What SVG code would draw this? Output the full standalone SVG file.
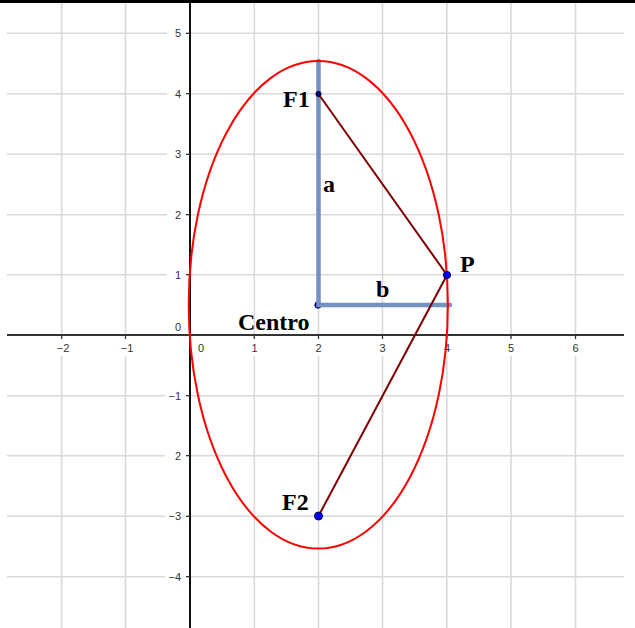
<svg xmlns="http://www.w3.org/2000/svg" width="635" height="628" viewBox="0 0 635 628">
<style>
.grid{stroke:#d9d9d9;stroke-width:1.6;fill:none}
.axis{stroke:#333;stroke-width:2;fill:none}
.tick{stroke:#333;stroke-width:1.2}
.num{font-family:"Liberation Sans",Arial,sans-serif;font-size:11px;fill:#333}
.lbl{font-family:"Liberation Serif","Times New Roman",serif;font-size:24px;font-weight:bold;fill:#000}
.bg{fill:#fff}
.seg{stroke:#7391c1;stroke-width:4.5;stroke-linecap:round;fill:none}
.side{stroke:#800000;stroke-width:2;fill:none}
.pt{fill:#0000ff;stroke:#000033;stroke-width:1}
</style>
<rect width="635" height="628" fill="#fff"/>
<g id="grid">
<path class="grid" d="M61.7 3V628M125.5 3V628M254.3 3V628M318.5 3V628M382.5 3V628M446.8 3V628M511 3V628M575.5 3V628"/>
<path class="grid" d="M7 33.3H624M7 93.7H624M7 154.3H624M7 214.7H624M7 274.7H624M7 395.7H624M7 455.7H624M7 516.3H624M7 576.7H624"/>
</g>
<g id="label-bg">
<rect class="bg" x="55" y="339" width="17" height="17"/>
<rect class="bg" x="119" y="339" width="17" height="17"/>
<rect class="bg" x="195" y="339" width="13" height="17"/>
<rect class="bg" x="248" y="339" width="13" height="17"/>
<rect class="bg" x="312" y="339" width="13" height="17"/>
<rect class="bg" x="376" y="339" width="13" height="17"/>
<rect class="bg" x="440" y="339" width="13" height="17"/>
<rect class="bg" x="504" y="339" width="13" height="17"/>
<rect class="bg" x="569" y="339" width="13" height="17"/>
<rect class="bg" x="167" y="26" width="19" height="15"/>
<rect class="bg" x="167" y="86" width="19" height="15"/>
<rect class="bg" x="167" y="147" width="19" height="15"/>
<rect class="bg" x="167" y="207" width="19" height="15"/>
<rect class="bg" x="167" y="267" width="19" height="15"/>
<rect class="bg" x="165" y="388" width="21" height="15"/>
<rect class="bg" x="165" y="448" width="21" height="15"/>
<rect class="bg" x="165" y="509" width="21" height="15"/>
<rect class="bg" x="165" y="569" width="21" height="15"/>
</g>
<g id="axes">
<path class="axis" d="M7 335H624"/>
<path class="axis" d="M190 3V628" style="stroke:#111"/>
<path class="tick" d="M61.7 335v4M125.5 335v4M254.3 335v4M318.5 335v4M382.5 335v4M446.8 335v4M511 335v4M575.5 335v4"/>
<path class="tick" d="M186 33.3h4M186 93.7h4M186 154.3h4M186 214.7h4M186 274.7h4M186 395.7h4M186 455.7h4M186 516.3h4M186 576.7h4"/>
</g>
<g id="axis-labels">
<text class="num" x="63" y="352" text-anchor="middle">−2</text>
<text class="num" x="127" y="352" text-anchor="middle">−1</text>
<text class="num" x="201" y="352" text-anchor="middle">0</text>
<text class="num" x="254.5" y="352" text-anchor="middle">1</text>
<text class="num" x="318.5" y="352" text-anchor="middle">2</text>
<text class="num" x="382.5" y="352" text-anchor="middle">3</text>
<text class="num" x="447" y="352" text-anchor="middle">4</text>
<text class="num" x="511" y="352" text-anchor="middle">5</text>
<text class="num" x="575.5" y="352" text-anchor="middle">6</text>
<text class="num" x="181" y="37.3" text-anchor="end">5</text>
<text class="num" x="181" y="97.7" text-anchor="end">4</text>
<text class="num" x="181" y="158.3" text-anchor="end">3</text>
<text class="num" x="181" y="218.7" text-anchor="end">2</text>
<text class="num" x="181" y="278.7" text-anchor="end">1</text>
<text class="num" x="181" y="331" text-anchor="end">0</text>
<text class="num" x="181" y="399.7" text-anchor="end">−1</text>
<text class="num" x="181" y="459.7" text-anchor="end">2</text>
<text class="num" x="181" y="520.3" text-anchor="end">−3</text>
<text class="num" x="181" y="580.7" text-anchor="end">−4</text>
</g>
<rect id="top-border" x="0" y="0" width="635" height="3" fill="#000"/>
<g id="Centro"><circle class="pt" cx="318" cy="305" r="3.2"/><text class="lbl" x="238" y="330">Centro</text></g>
<g id="semi-axes">
<path class="seg" d="M318.5 61V305H450"/>
</g>
<g id="ellipse">
<ellipse cx="318.3" cy="304.8" rx="129.6" ry="243.8" fill="none" stroke="#ff0000" stroke-width="2"/>
</g>
<g id="connectors">
<path class="side" d="M318.5 94L447 275L318.5 516"/>
</g>
<g id="F1"><circle class="pt" cx="318.5" cy="94" r="2.6" style="fill:#000080"/><text class="lbl" x="283" y="107">F1</text></g>
<g id="P"><circle class="pt" cx="447" cy="275" r="3.6"/><text class="lbl" x="460" y="272">P</text></g>
<g id="F2"><circle class="pt" cx="318.5" cy="516" r="4"/><text class="lbl" x="282" y="510">F2</text></g>
<g id="labels"><text class="lbl" x="323" y="192">a</text><text class="lbl" x="376" y="297">b</text></g>
</svg>
